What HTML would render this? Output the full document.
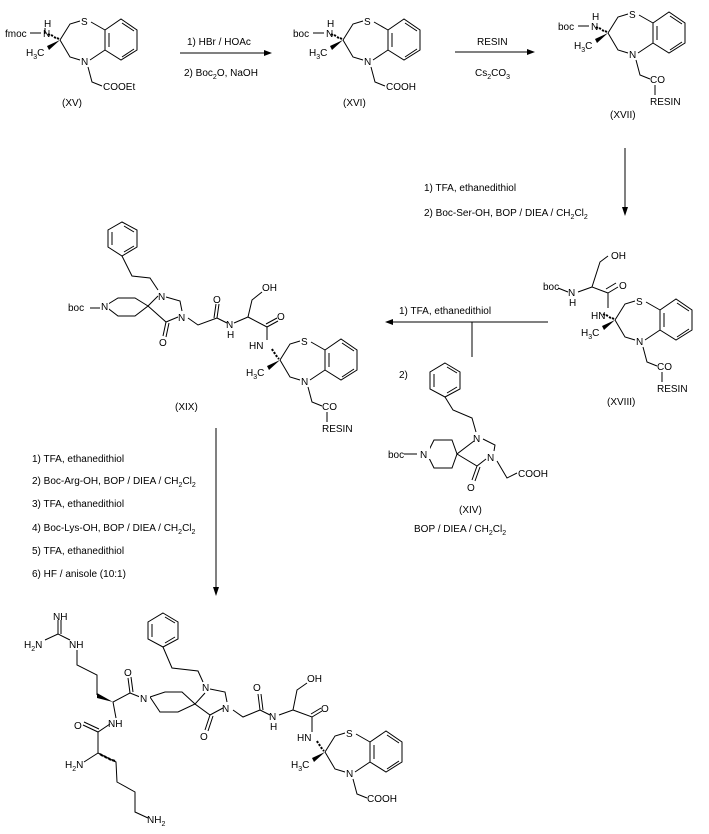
<!DOCTYPE html>
<html><head><meta charset="utf-8"><style>
html,body{margin:0;padding:0;background:#fff}
svg{display:block}
text{font-family:"Liberation Sans",sans-serif;font-size:10px;fill:#000}
.s{font-size:7px}
</style></head><body>
<svg width="709" height="834" viewBox="0 0 709 834" xmlns="http://www.w3.org/2000/svg">
<defs>
<g id="core0" stroke="#000" stroke-width="1" fill="none">
<path d="M0,0 L10,-16 L20,-19 M31,-18 L45,-10 M0,0 L10,17 L20,20 M30,20 L45,10 M28,27 L32,42 L42,46"/>
<path d="M45,-10 L61,-21 L77,-10 L77,10 L61,20 L45,10 Z M49,-7 L49,7 M62,-17 L74,-9 M62,17 L74,9"/>
<polygon points="0,0 -13,6 -11,10" fill="#000" stroke="none"/>
</g>
<g id="core">
<use href="#core0"/>
<path d="M-3,-2 L-1,-1 M-6,-3 L-4,-2 M-9,-5 L-7,-4 M-12,-6 L-10,-5" stroke="#000" stroke-width="2"/>
</g>
<g id="coreB">
<use href="#core0"/>
<path d="M-2,-2 L-1,-1 M-4,-5 L-3,-3 M-6,-8 L-5,-6 M-8,-11 L-7,-9" stroke="#000" stroke-width="2"/>
</g>
<g id="corelbl">
<text x="21" y="-15">S</text><text x="21" y="25">N</text>
<text x="-34" y="16">H<tspan class="s" dy="3">3</tspan><tspan dy="-3">C</tspan></text>
</g>
</defs>
<g stroke="#000" stroke-width="1" fill="none">
<path d="M180,53 L270,53 M455,52 L533,52 M625,148 L625,213 M548,322 L388,322 M472,322 L472,357 M216,428 L216,593"/>
</g>
<polygon points="272,53 264,50 264,56" fill="#000"/>
<polygon points="535,52 527,49 527,55" fill="#000"/>
<polygon points="625,216 622,207 628,207" fill="#000"/>
<polygon points="385,322 393,319 393,325" fill="#000"/>
<polygon points="216,596 213,587 219,587" fill="#000"/>
<text x="187" y="45">1) HBr / HOAc</text>
<text x="184" y="76">2) Boc<tspan class="s" dy="3">2</tspan><tspan dy="-3">O, NaOH</tspan></text>
<text x="477" y="45">RESIN</text>
<text x="475" y="76">Cs<tspan class="s" dy="3">2</tspan><tspan dy="-3">CO</tspan><tspan class="s" dy="3">3</tspan></text>
<text x="424" y="191">1) TFA, ethanedithiol</text>
<text x="424" y="216">2) Boc-Ser-OH, BOP / DIEA / CH<tspan class="s" dy="3">2</tspan><tspan dy="-3">Cl</tspan><tspan class="s" dy="3">2</tspan></text>
<text x="399" y="314">1) TFA, ethanedithiol</text>
<text x="399" y="378">2)</text>
<text x="32" y="462">1) TFA, ethanedithiol</text>
<text x="32" y="484">2) Boc-Arg-OH, BOP / DIEA / CH<tspan class="s" dy="3">2</tspan><tspan dy="-3">Cl</tspan><tspan class="s" dy="3">2</tspan></text>
<text x="32" y="507">3) TFA, ethanedithiol</text>
<text x="32" y="531">4) Boc-Lys-OH, BOP / DIEA / CH<tspan class="s" dy="3">2</tspan><tspan dy="-3">Cl</tspan><tspan class="s" dy="3">2</tspan></text>
<text x="32" y="554">5) TFA, ethanedithiol</text>
<text x="32" y="577">6) HF / anisole (10:1)</text>

<g transform="translate(60,40)"><use href="#core"/><use href="#corelbl"/>
<text x="-17" y="-3">N</text><text x="-16" y="-13">H</text>
<path d="M-15,-12 L-15,-6" stroke="#000"/>
<text x="-55" y="-3">fmoc</text><path d="M-30,-7 L-19,-7" stroke="#000"/>
<text x="43" y="50">COOEt</text></g>
<text x="62" y="106">(XV)</text>
<g transform="translate(343,40)"><use href="#core"/><use href="#corelbl"/>
<text x="-17" y="-3">N</text><text x="-16" y="-13">H</text>
<text x="-50" y="-3">boc</text><path d="M-30,-7 L-19,-7" stroke="#000"/>
<text x="43" y="50">COOH</text></g>
<text x="343" y="106">(XVI)</text>
<g transform="translate(608,33)"><use href="#core"/><use href="#corelbl"/>
<text x="-17" y="-3">N</text><text x="-16" y="-13">H</text>
<text x="-50" y="-3">boc</text><path d="M-30,-7 L-19,-7" stroke="#000"/>
<text x="42" y="50">CO</text><path d="M47,52 L47,62" stroke="#000"/><text x="42" y="72">RESIN</text></g>
<text x="610" y="118">(XVII)</text>
<g transform="translate(615,320)"><use href="#core"/><use href="#corelbl"/>
<text x="-24" y="-1">HN</text>
<text x="42" y="50">CO</text><path d="M47,52 L47,62" stroke="#000"/><text x="42" y="72">RESIN</text></g>
<g stroke="#000" fill="none"><path d="M608,308 L608,293 L592,287 L600,262 L608,256 M608,293 L618,287 M606,289 L616,283 M592,287 L578,292 M558,288 L568,292"/></g>
<text x="611" y="259">OH</text><text x="619" y="289">O</text><text x="568" y="296">N</text><text x="569" y="306">H</text><text x="543" y="290">boc</text>
<text x="607" y="405">(XVIII)</text>
<g transform="translate(280,360)"><use href="#coreB"/><use href="#corelbl"/>
<text x="-31" y="-11">HN</text>
<text x="42" y="50">CO</text><path d="M47,52 L47,62" stroke="#000"/><text x="42" y="72">RESIN</text></g>
<g stroke="#000" fill="none">
<path d="M122,222 L137,230 L137,247 L122,256 L108,247 L108,230 Z M112,232 L112,245 M124,226 L134,232 M124,252 L134,246"/>
<path d="M122,256 L132,276 L150,278 L158,290 M166,297 L180,301 L182,311 M178,317 L166,322 L148,306 L158,296 M166,322 L163,336 M169,323 L166,337"/>
<path d="M105,306 L118,298 L135,298 L148,306 L135,316 L118,316 Z"/>
<path d="M188,318 L198,325 L217,318 L219,304 M214,318 L216,304 M217,318 L227,323 M234,323 L248,317 L252,300 L262,292 M248,317 L267,327 L278,321 M266,324 L277,318 M267,327 L267,340"/>
</g>
<rect x="99" y="300" width="10" height="12" fill="#fff"/>
<path d="M90,308 L100,308" stroke="#000"/>
<text x="158" y="300">N</text><text x="178" y="321">N</text><text x="101" y="310">N</text><text x="68" y="311">boc</text>
<text x="159" y="346">O</text><text x="213" y="303">O</text><text x="226" y="328">N</text><text x="227" y="338">H</text>
<text x="262" y="291">OH</text><text x="277" y="320">O</text>
<text x="175" y="410">(XIX)</text>
<g stroke="#000" fill="none">
<path d="M445,363 L460,372 L460,389 L445,397 L430,389 L430,372 Z M434,374 L434,387 M447,367 L457,373 M447,393 L457,387"/>
<path d="M445,397 L453,410 L472,418 L476,432 M483,439 L495,445 L494,451 M486,459 L477,466 L457,454 L474,441 M477,466 L472,480 M480,467 L475,481"/>
<path d="M427,454 L434,440 L452,440 L457,454 L452,468 L434,468 Z"/>
<path d="M497,461 L507,478 L517,473 M404,454 L417,454"/>
</g>
<rect x="420" y="447" width="10" height="12" fill="#fff"/>
<text x="473" y="442">N</text><text x="487" y="461">N</text><text x="420" y="458">N</text><text x="388" y="458">boc</text><text x="467" y="491">O</text><text x="518" y="477">COOH</text>
<text x="459" y="513">(XIV)</text>
<text x="414" y="532">BOP / DIEA / CH<tspan class="s" dy="3">2</tspan><tspan dy="-3">Cl</tspan><tspan class="s" dy="3">2</tspan></text>
<g transform="translate(325,752)"><use href="#coreB"/><use href="#corelbl"/>
<text x="-28" y="-11">HN</text><text x="42" y="50">COOH</text></g>
<g stroke="#000" fill="none">
<path d="M163,613 L178,622 L178,639 L163,647 L148,639 L148,622 Z M152,624 L152,637 M165,617 L175,623 M165,643 L175,637"/>
<path d="M163,647 L172,668 L198,671 L203,682 M210,689 L225,692 L227,702 M223,708 L210,715 L195,704 L205,693 M210,715 L205,730 M213,716 L208,731"/>
<path d="M150,697 L165,692 L182,692 L195,704 L178,712 L160,712 Z"/>
<path d="M233,710 L243,717 L260,710 L258,694 M263,710 L261,694 M260,710 L270,715 M279,715 L293,710 L297,690 L307,683 M293,710 L312,717 L322,711 M311,714 L321,708 M312,717 L312,732"/>
<path d="M140,697 L130,693 L128,678 M133,692 L131,677 M130,693 L113,702 L116,718 M110,724 L98,732 L83,725 M99,729 L84,722 M98,732 L98,753 L84,762 M98,753 L116,762 L117,782 L135,792 L135,812 L148,818"/>
<path d="M97,695 L97,675 L77,665 L77,650 M70,640 L58,634 L58,620 M61,634 L61,620 M58,634 L45,640"/>
</g>
<polygon points="113,702 97,693 97,698" fill="#000"/>
<path d="M100,754 L103,756 M104,756 L107,758 M108,758 L111,760 M112,760 L115,761" stroke="#000" stroke-width="2"/>
<rect x="139" y="691" width="11" height="12" fill="#fff"/>
<text x="140" y="702">N</text><text x="202" y="691">N</text><text x="222" y="712">N</text>
<text x="200" y="740">O</text><text x="253" y="691">O</text><text x="269" y="720">N</text><text x="270" y="730">H</text>
<text x="307" y="682">OH</text><text x="321" y="712">O</text>
<text x="124" y="676">O</text><text x="108" y="727">NH</text><text x="74" y="729">O</text>
<text x="65" y="768">H<tspan class="s" dy="3">2</tspan><tspan dy="-3">N</tspan></text>
<text x="147" y="823">NH<tspan class="s" dy="3">2</tspan></text>
<text x="69" y="648">NH</text><text x="53" y="620">NH</text>
<text x="24" y="648">H<tspan class="s" dy="3">2</tspan><tspan dy="-3">N</tspan></text>
</svg>
</body></html>
